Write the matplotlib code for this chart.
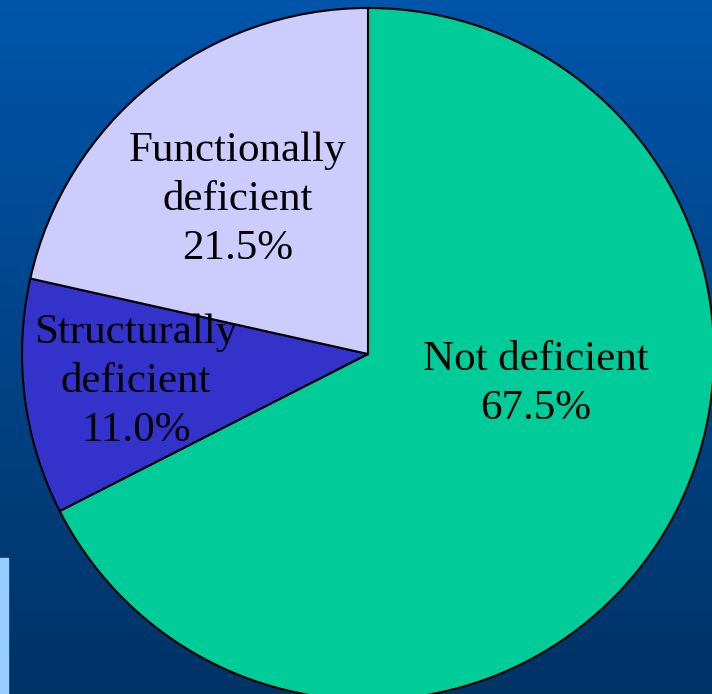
import numpy as np
import matplotlib.pyplot as plt
from matplotlib.colors import LinearSegmentedColormap

# Data
categories = ['Not deficient', 'Structurally\ndeficient', 'Functionally\ndeficient']
shares = [67.5, 11.0, 21.5]
colors = ['#00cc99', '#3333cc', '#ccccff']

# Label positions (pixel coords, y measured from top)
label_pos = [(536, 384), (136, 382), (238, 200)]

W, H = 712, 694
fig = plt.figure(figsize=(W / 100, H / 100), dpi=100)
ax = fig.add_axes([0, 0, 1, 1])

# Blue gradient background
cmap = LinearSegmentedColormap.from_list('bg', ['#003366', '#0055aa'])
grad = np.linspace(0, 1, 256).reshape(-1, 1)
ax.imshow(grad, cmap=cmap, extent=[0, W, 0, H], origin='lower', aspect='auto', zorder=0)

# Light blue strip at bottom-left
ax.add_patch(plt.Rectangle((0, 0), 8, H - 558, color='#99ccff', zorder=1))

# Pie
cx, cy, r = 368, H - 354, 346
ax.pie(shares, colors=colors, startangle=90, counterclock=False,
       center=(cx, cy), radius=r, frame=True,
       wedgeprops=dict(edgecolor='black', linewidth=1.5, zorder=2))
ax.set_xlim(0, W)
ax.set_ylim(0, H)
ax.set_aspect('equal')
ax.axis('off')

for name, val, (x, y) in zip(categories, shares, label_pos):
    ax.text(x, H - y, f'{name}\n{val:.1f}%', ha='center', va='center',
            fontsize=31, family='Liberation Serif', color='black',
            linespacing=1.36, zorder=3)

plt.savefig('out.png', dpi=100)
plt.close()
